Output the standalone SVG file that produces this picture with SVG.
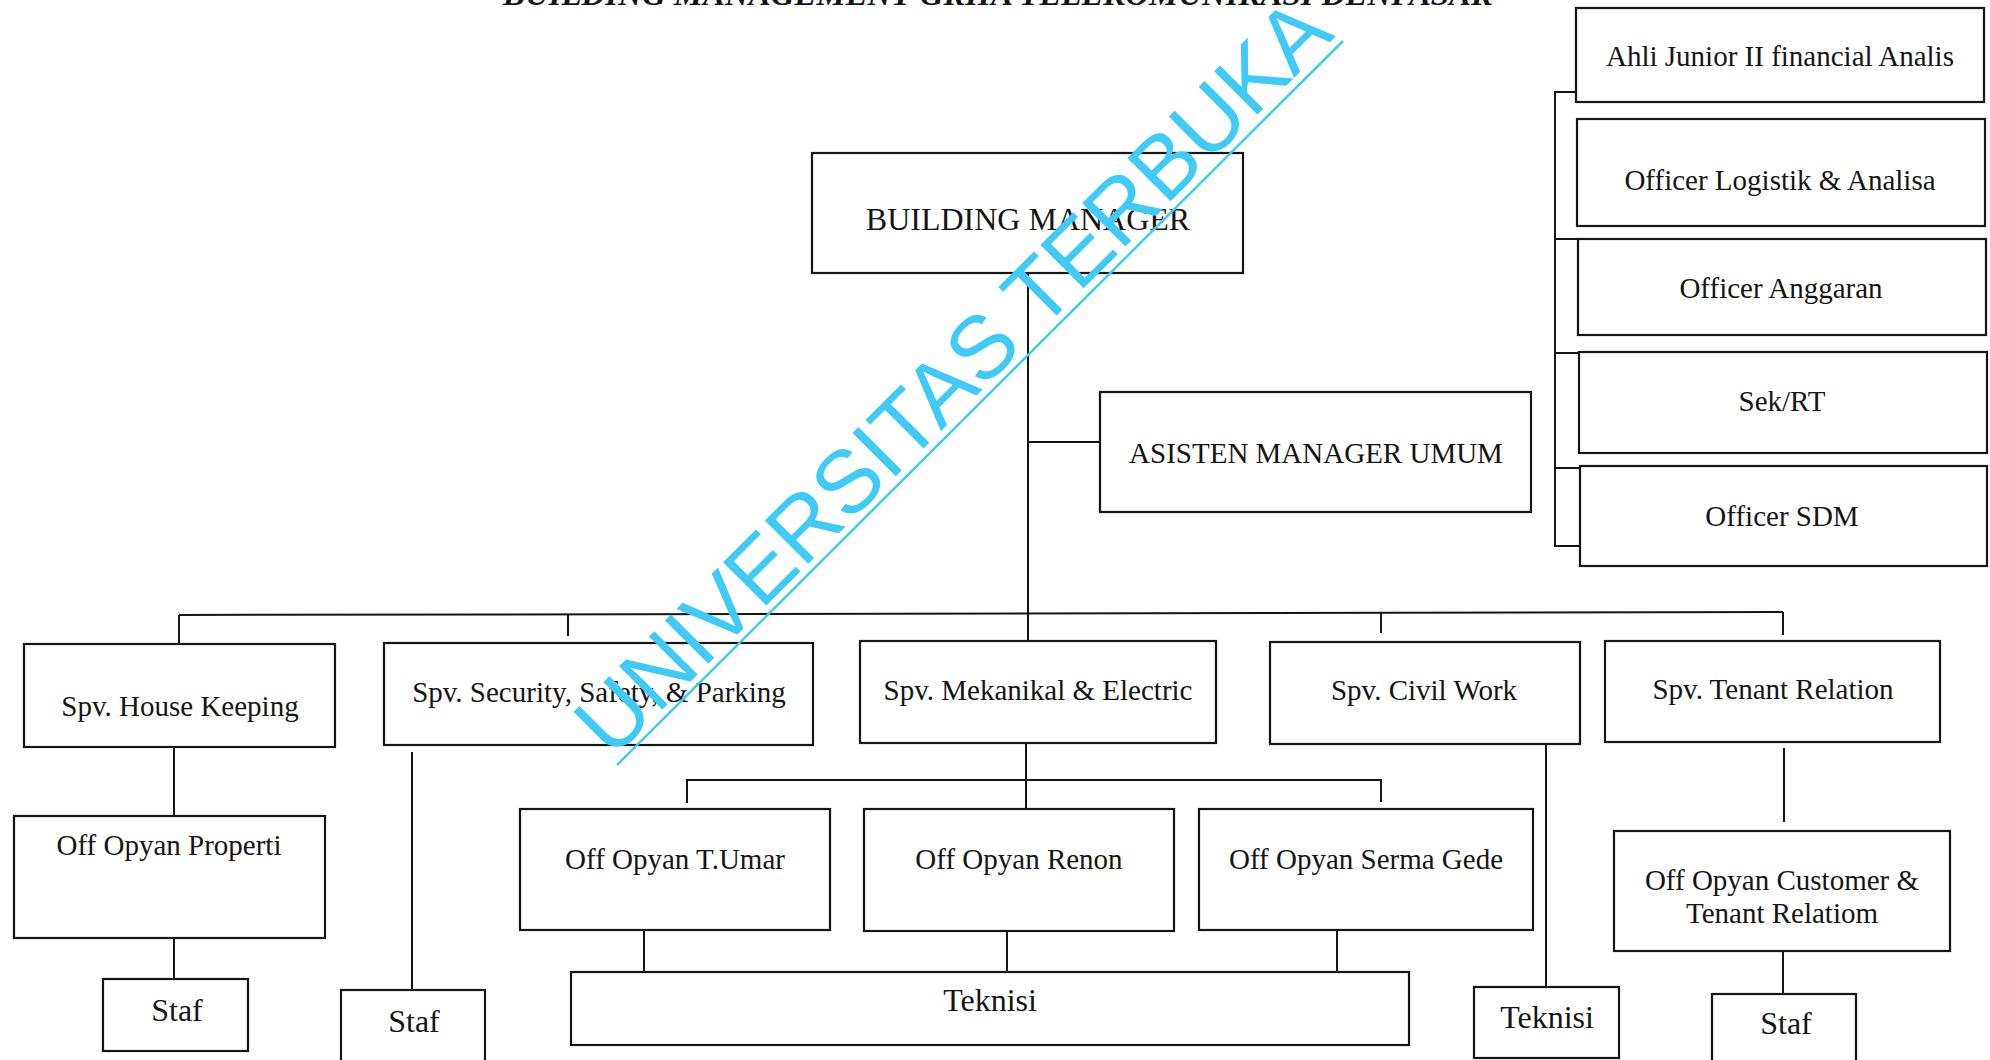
<svg xmlns="http://www.w3.org/2000/svg" width="1990" height="1060" viewBox="0 0 1990 1060">
<style>
.b{fill:#fff;stroke:#151515;stroke-width:2.2}
.t{font-family:"Liberation Serif","Times New Roman",serif;font-size:29px;fill:#151515;text-anchor:middle}
.big{font-size:32px}
.c line,.c path{stroke:#151515;stroke-width:2;fill:none}
.wm{font-family:"Liberation Sans",Arial,sans-serif;font-size:89px;fill:#3fcaf8}
</style>
<rect width="1990" height="1060" fill="#fff"/>
<text x="998" y="5" font-family="Liberation Serif,'Times New Roman',serif" font-size="32" font-weight="bold" font-style="italic" fill="#151515" text-anchor="middle" textLength="990" lengthAdjust="spacingAndGlyphs">BUILDING MANAGEMENT GRHA TELEKOMUNIKASI DENPASAR</text>
<g class="c" id="connectors">
<line x1="1028" y1="273" x2="1028" y2="641"/>
<line x1="1028" y1="442" x2="1100" y2="442"/>
<line x1="179" y1="615" x2="1783" y2="612"/>
<line x1="179" y1="615" x2="179" y2="644"/>
<line x1="568" y1="614" x2="568" y2="636"/>
<line x1="1381" y1="613" x2="1381" y2="633"/>
<line x1="1783" y1="612" x2="1783" y2="635"/>
<path d="M1576,92 H1555 V546 H1580"/>
<line x1="1555" y1="239" x2="1578" y2="239"/>
<line x1="1555" y1="353" x2="1579" y2="353"/>
<line x1="1555" y1="468" x2="1580" y2="468"/>
<line x1="174" y1="747" x2="174" y2="816"/>
<line x1="174" y1="938" x2="174" y2="979"/>
<line x1="412" y1="752" x2="412" y2="990"/>
<line x1="1026" y1="743" x2="1026" y2="809"/>
<path d="M687,803 V780 H1381 V802"/>
<line x1="644" y1="930" x2="644" y2="972"/>
<line x1="1007" y1="931" x2="1007" y2="972"/>
<line x1="1337" y1="930" x2="1337" y2="972"/>
<line x1="1546" y1="743" x2="1546" y2="987"/>
<line x1="1784" y1="748" x2="1784" y2="822"/>
<line x1="1783" y1="951" x2="1783" y2="994"/>
</g>
<g id="building-manager"><rect class="b" x="812" y="153" width="431" height="120"/><text class="t big" x="1028" y="230">BUILDING MANAGER</text></g>
<g id="asisten-manager"><rect class="b" x="1100" y="392" width="431" height="120"/><text class="t" x="1316" y="463">ASISTEN MANAGER UMUM</text></g>
<g id="ahli-junior"><rect class="b" x="1576" y="8" width="408" height="94"/><text class="t" x="1780" y="66">Ahli Junior II financial Analis</text></g>
<g id="officer-logistik"><rect class="b" x="1577" y="119" width="408" height="107"/><text class="t" x="1780" y="190">Officer Logistik &amp; Analisa</text></g>
<g id="officer-anggaran"><rect class="b" x="1578" y="239" width="408" height="96"/><text class="t" x="1781" y="298">Officer Anggaran</text></g>
<g id="sek-rt"><rect class="b" x="1579" y="352" width="408" height="101"/><text class="t" x="1782" y="411">Sek/RT</text></g>
<g id="officer-sdm"><rect class="b" x="1580" y="466" width="407" height="100"/><text class="t" x="1782" y="526">Officer SDM</text></g>
<g id="spv-house-keeping"><rect class="b" x="24" y="644" width="311" height="103"/><text class="t" x="180" y="716">Spv. House Keeping</text></g>
<g id="spv-security"><rect class="b" x="384" y="643" width="429" height="102"/><text class="t" x="599" y="702">Spv. Security, Safety, &amp; Parking</text></g>
<g id="spv-mekanikal"><rect class="b" x="860" y="641" width="356" height="102"/><text class="t" x="1038" y="700">Spv. Mekanikal &amp; Electric</text></g>
<g id="spv-civil"><rect class="b" x="1270" y="642" width="310" height="102"/><text class="t" x="1424" y="700">Spv. Civil Work</text></g>
<g id="spv-tenant"><rect class="b" x="1605" y="641" width="335" height="101"/><text class="t" x="1773" y="699">Spv. Tenant Relation</text></g>
<g id="off-properti"><rect class="b" x="14" y="816" width="311" height="122"/><text class="t" x="169" y="855">Off Opyan Properti</text></g>
<g id="off-tumar"><rect class="b" x="520" y="809" width="310" height="121"/><text class="t" x="675" y="869">Off Opyan T.Umar</text></g>
<g id="off-renon"><rect class="b" x="864" y="809" width="310" height="122"/><text class="t" x="1019" y="869">Off Opyan Renon</text></g>
<g id="off-serma"><rect class="b" x="1199" y="809" width="334" height="121"/><text class="t" x="1366" y="869">Off Opyan Serma Gede</text></g>
<g id="off-customer"><rect class="b" x="1614" y="831" width="336" height="120"/><text class="t" x="1782" y="890">Off Opyan Customer &amp;</text><text class="t" x="1782" y="923">Tenant Relatiom</text></g>
<g id="staf-hk"><rect class="b" x="103" y="979" width="145" height="72"/><text class="t big" x="177" y="1021">Staf</text></g>
<g id="staf-security"><rect class="b" x="341" y="990" width="144" height="80"/><text class="t big" x="414" y="1032">Staf</text></g>
<g id="teknisi-me"><rect class="b" x="571" y="972" width="838" height="73"/><text class="t big" x="990" y="1011">Teknisi</text></g>
<g id="teknisi-civil"><rect class="b" x="1474" y="987" width="145" height="71"/><text class="t big" x="1547" y="1028">Teknisi</text></g>
<g id="staf-tenant"><rect class="b" x="1712" y="994" width="144" height="76"/><text class="t big" x="1786" y="1034">Staf</text></g>
<g id="watermark">
<text class="wm" transform="translate(612,760) rotate(-45)" textLength="1024" lengthAdjust="spacing">UNIVERSITAS TERBUKA</text>
<line x1="617" y1="765" x2="1343" y2="41" stroke="#3fcaf8" stroke-width="2.5"/>
</g>
</svg>
